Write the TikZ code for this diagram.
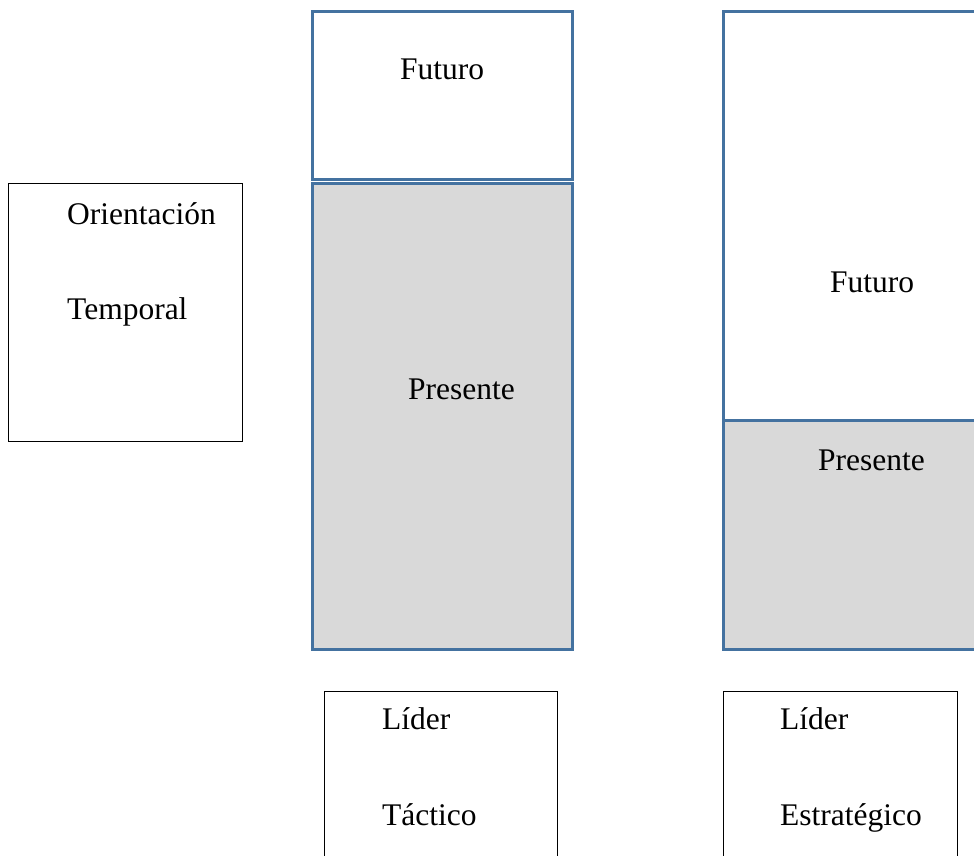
\documentclass[tikz,border=0pt]{standalone}
\usepackage{fontspec}
\setmainfont{Liberation Serif}

\definecolor{boxblue}{RGB}{68,114,160}
\definecolor{boxgray}{RGB}{217,217,217}

\tikzset{
  bluebox/.style={draw=boxblue, line width=3pt},
  blackbox/.style={draw=black, line width=1pt},
  lbl/.style={anchor=base west, inner sep=0pt, font=\fontsize{31.5}{38}\selectfont}
}

\begin{document}
\begin{tikzpicture}[x=1pt,y=-1pt]

  \useasboundingbox (0,0) rectangle (974,856);
  \clip (0,0) rectangle (974,856);

  % --- Orientacion temporal ---
  \draw[blackbox] (8,183) rectangle (242,441);
  \node[lbl] (orient) at (67,224) {Orientación};
  \node[lbl] (temporal) at (67,319) {Temporal};

  % --- Lider tactico: columna ---
  \draw[bluebox] (312.5,11.5) rectangle (572.5,179);
  \draw[bluebox, fill=boxgray] (312.5,183) rectangle (572.5,649);
  \node[lbl] (tacFuturo) at (400,80) {Futuro};
  \node[lbl] (tacPresente) at (408,399) {Presente};

  % --- Lider estrategico: columna ---
  \draw[bluebox, fill=boxgray] (723,420) rectangle (1000,649);
  \draw[bluebox] (723,12) rectangle (1000,420);
  \node[lbl] (estFuturo) at (830,292) {Futuro};
  \node[lbl] (estPresente) at (818,470) {Presente};

  % --- Etiquetas de lider ---
  \draw[blackbox] (324,691) rectangle (557,900);
  \node[lbl] (tacLider) at (382,729) {Líder};
  \node[lbl] (tactico) at (382,825) {Táctico};

  \draw[blackbox] (723,691) rectangle (957,900);
  \node[lbl] (estLider) at (780,729) {Líder};
  \node[lbl] (estrategico) at (780,825) {Estratégico};

\end{tikzpicture}
\end{document}
